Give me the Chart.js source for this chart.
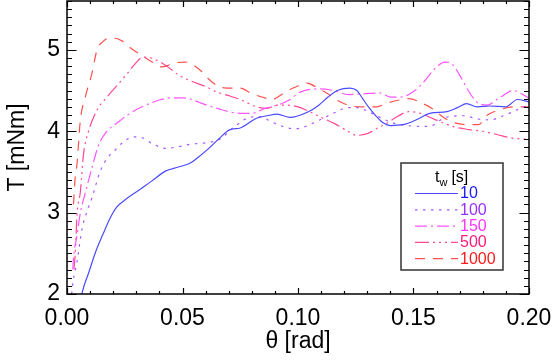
<!DOCTYPE html>
<html>
<head>
<meta charset="utf-8">
<script src="https://cdn.jsdelivr.net/npm/chart.js@4.4.1/dist/chart.umd.min.js"></script>
<style>
html,body{margin:0;padding:0;background:#fff;}
#wrap{width:553px;height:362px;position:relative;}
</style>
</head>
<body>
<div id="wrap"><canvas id="c" width="553" height="362"></canvas></div>
<script>
// ---- data ----
const seriesLabels = ['10', '100', '150', '500', '1000'];

const theta10 = [0.0060,0.0065,0.0095,0.0123,0.0155,0.0188,0.0216,0.0253,0.0303,0.0368,0.0426,0.0483,0.0534,0.0568,0.0610,0.0655,0.0706,0.0750,0.0820,0.0866,0.0910,0.0965,0.1045,0.1090,0.1130,0.1170,0.1225,0.1255,0.1280,0.1310,0.1340,0.1370,0.1400,0.1455,0.1520,0.1570,0.1645,0.1690,0.1730,0.1775,0.1830,0.1900,0.1950,0.1998];
const torque10 = [1.93,2.01,2.27,2.51,2.73,2.94,3.07,3.16,3.26,3.39,3.51,3.56,3.61,3.68,3.78,3.90,4.02,4.04,4.16,4.19,4.21,4.17,4.24,4.32,4.42,4.50,4.53,4.50,4.40,4.28,4.18,4.10,4.07,4.08,4.15,4.22,4.24,4.29,4.34,4.30,4.31,4.30,4.39,4.36];

const theta100 = [0.0020,0.0026,0.0043,0.0065,0.0085,0.0108,0.0144,0.0180,0.0202,0.0245,0.0289,0.0325,0.0368,0.0426,0.0483,0.0534,0.0606,0.0660,0.0727,0.0790,0.0830,0.0890,0.0944,0.0987,0.1023,0.1080,0.1153,0.1218,0.1255,0.1290,0.1355,0.1413,0.1470,0.1535,0.1570,0.1630,0.1716,0.1780,0.1831,0.1889,0.1947,0.1995];
const torque100 = [2.00,2.15,2.39,2.80,3.00,3.18,3.51,3.69,3.75,3.87,3.93,3.92,3.85,3.79,3.81,3.84,3.86,3.90,4.06,4.17,4.18,4.11,4.05,4.03,4.05,4.12,4.22,4.29,4.29,4.26,4.17,4.10,4.07,4.06,4.06,4.16,4.19,4.15,4.14,4.19,4.26,4.32];

const theta150 = [0.0025,0.0029,0.0043,0.0058,0.0079,0.0108,0.0137,0.0173,0.0216,0.0267,0.0325,0.0397,0.0455,0.0500,0.0540,0.0576,0.0650,0.0750,0.0800,0.0857,0.0910,0.0960,0.1009,0.1095,0.1153,0.1218,0.1283,0.1355,0.1400,0.1445,0.1506,0.1543,0.1593,0.1636,0.1665,0.1700,0.1737,0.1774,0.1817,0.1867,0.1932,0.1997];
const torque150 = [2.30,2.47,2.71,3.00,3.24,3.55,3.83,4.00,4.10,4.21,4.30,4.38,4.41,4.41,4.39,4.35,4.28,4.22,4.22,4.28,4.32,4.38,4.48,4.52,4.50,4.45,4.46,4.47,4.42,4.42,4.50,4.60,4.77,4.85,4.83,4.69,4.50,4.36,4.32,4.40,4.50,4.41];

const theta500 = [0.0030,0.0036,0.0043,0.0058,0.0072,0.0091,0.0130,0.0173,0.0216,0.0267,0.0289,0.0329,0.0365,0.0426,0.0483,0.0534,0.0600,0.0650,0.0697,0.0750,0.0820,0.0866,0.0910,0.0950,0.1000,0.1050,0.1100,0.1160,0.1210,0.1255,0.1300,0.1345,0.1380,0.1430,0.1480,0.1530,0.1580,0.1630,0.1680,0.1740,0.1800,0.1860,0.1920,0.1995];
const torque500 = [2.30,2.51,2.96,3.26,3.73,3.98,4.26,4.42,4.56,4.73,4.81,4.91,4.90,4.81,4.69,4.62,4.55,4.48,4.44,4.39,4.30,4.28,4.32,4.32,4.30,4.24,4.17,4.09,4.01,3.95,3.97,4.04,4.09,4.18,4.24,4.22,4.16,4.10,4.05,4.02,4.00,3.96,3.92,3.90];

const theta1000 = [0.0028,0.0036,0.0043,0.0058,0.0079,0.0108,0.0130,0.0155,0.0188,0.0238,0.0281,0.0325,0.0375,0.0411,0.0469,0.0512,0.0577,0.0606,0.0650,0.0690,0.0750,0.0800,0.0844,0.0887,0.0944,0.0987,0.1040,0.1080,0.1140,0.1170,0.1230,0.1280,0.1340,0.1390,0.1450,0.1480,0.1540,0.1580,0.1630,0.1670,0.1740,0.1780,0.1820,0.1870,0.1930,0.1970,0.1995];
const torque1000 = [3.10,3.45,3.59,4.14,4.42,4.71,5.00,5.10,5.15,5.11,5.01,4.93,4.84,4.79,4.84,4.85,4.75,4.66,4.56,4.53,4.53,4.46,4.42,4.39,4.48,4.54,4.59,4.54,4.44,4.38,4.31,4.30,4.30,4.35,4.39,4.40,4.34,4.28,4.17,4.11,4.08,4.08,4.20,4.26,4.30,4.30,4.30];

const xTickValues = [0.00, 0.05, 0.10, 0.15, 0.20];
const xTickLabels = ['0.00', '0.05', '0.10', '0.15', '0.20'];
const yTickValues = [2, 3, 4, 5];
const yTickLabels = ['2', '3', '4', '5'];

// ---- styles ----
const lineColors = ['#4a4aff', '#a855ff', '#ff55ff', '#ff4a95', '#ff5050'];
const textColors = ['#1a1aff', '#9530ff', '#ff35ff', '#ff1a78', '#ff1a1a'];
const dashes = [[], [2.5, 5.5], [12, 4, 2, 4], [14, 4, 2, 4, 2, 4, 2, 4], [10, 8]];

const pairs = (xs, ys) => xs.map((x, i) => ({x: x, y: ys[i]}));
const allTheta = [theta10, theta100, theta150, theta500, theta1000];
const allTorque = [torque10, torque100, torque150, torque500, torque1000];

const FONT = '"Liberation Sans", Arial, Helvetica, sans-serif';

const datasets = seriesLabels.map((lab, i) => ({
  label: lab,
  data: pairs(allTheta[i], allTorque[i]),
  borderColor: lineColors[i],
  borderWidth: 1.2,
  borderDash: dashes[i],
  pointRadius: 0,
  fill: false,
  cubicInterpolationMode: 'monotone',
  textColor: textColors[i]
}));

const frameTicks = {
  id: 'frameTicks',
  afterDraw(chart) {
    const ctx = chart.ctx, a = chart.chartArea;
    const xs = chart.scales.x, ys = chart.scales.y;
    ctx.save();
    ctx.strokeStyle = '#000';
    ctx.lineWidth = 1.5;
    ctx.setLineDash([]);
    ctx.strokeRect(a.left, a.top, a.right - a.left, a.bottom - a.top);
    ctx.lineWidth = 1.2;
    ctx.beginPath();
    for (let k = 0; k <= 20; k++) {
      const v = k * 0.01;
      const px = Math.round(xs.getPixelForValue(v)) + 0.5;
      const len = (k % 5 === 0) ? 6 : 3;
      ctx.moveTo(px, a.bottom); ctx.lineTo(px, a.bottom - len);
      ctx.moveTo(px, a.top); ctx.lineTo(px, a.top + len);
    }
    for (let k = 20; k <= 56; k++) {
      const v = k * 0.1;
      const py = Math.round(ys.getPixelForValue(v)) + 0.5;
      const len = (k % 10 === 0) ? 9.5 : 5;
      ctx.moveTo(a.left, py); ctx.lineTo(a.left + len, py);
      ctx.moveTo(a.right, py); ctx.lineTo(a.right - len, py);
    }
    ctx.stroke();

    // legend box
    const bx = 401, by = 163, bw = 102, bh = 107;
    ctx.fillStyle = '#fff';
    ctx.fillRect(bx, by, bw, bh);
    ctx.strokeStyle = '#333';
    ctx.lineWidth = 1.5;
    ctx.strokeRect(bx, by, bw, bh);
    ctx.fillStyle = '#000';
    ctx.textBaseline = 'alphabetic';
    ctx.textAlign = 'left';
    ctx.font = '16px ' + FONT;
    let tx = 435;
    ctx.fillText('t', tx, 182);
    tx += ctx.measureText('t').width;
    ctx.font = '11px ' + FONT;
    ctx.fillText('w', tx, 186);
    tx += ctx.measureText('w').width + 4;
    ctx.font = '16px ' + FONT;
    ctx.fillText('[s]', tx, 182);
    chart.data.datasets.forEach((ds, i) => {
      const yy = 193 + i * 16.3;
      ctx.strokeStyle = ds.borderColor;
      ctx.lineWidth = 1.2;
      ctx.setLineDash(ds.borderDash);
      ctx.beginPath();
      ctx.moveTo(415, yy + 0.5); ctx.lineTo(458, yy + 0.5);
      ctx.stroke();
      ctx.setLineDash([]);
      ctx.fillStyle = ds.textColor;
      ctx.font = '16px ' + FONT;
      ctx.textBaseline = 'middle';
      ctx.fillText(ds.label, 460, yy + 1);
    });
    ctx.restore();
  }
};

new Chart(document.getElementById('c'), {
  type: 'line',
  data: { datasets: datasets },
  plugins: [frameTicks],
  options: {
    responsive: false,
    animation: false,
    layout: { padding: { left: 0, right: 24, top: 1, bottom: 0 } },
    plugins: { legend: { display: false }, tooltip: { enabled: false } },
    scales: {
      x: {
        type: 'linear',
        min: 0, max: 0.2,
        afterBuildTicks: s => { s.ticks = xTickValues.map(v => ({value: v})); },
        afterFit: s => { s.height = 68; s.paddingLeft = 0; s.paddingRight = 0; },
        ticks: {
          callback: (v) => { const i = xTickValues.findIndex(t => Math.abs(t - v) < 1e-9); return i >= 0 ? xTickLabels[i] : ''; },
          font: { family: FONT, size: 23 },
          color: '#000',
          padding: 11,
          maxRotation: 0,
          autoSkip: false
        },
        grid: { display: false, drawTicks: false },
        border: { display: false },
        title: { display: true, text: 'θ [rad]', font: { family: FONT, size: 23 }, color: '#000', padding: { top: 0, bottom: 7 } }
      },
      y: {
        type: 'linear',
        min: 2, max: 5.6,
        afterBuildTicks: s => { s.ticks = yTickValues.map(v => ({value: v})); },
        afterFit: s => { s.width = 67; s.paddingTop = 0; s.paddingBottom = 0; },
        ticks: {
          callback: (v) => { const i = yTickValues.findIndex(t => Math.abs(t - v) < 1e-9); return i >= 0 ? yTickLabels[i] : ''; },
          font: { family: FONT, size: 23 },
          color: '#000',
          padding: 7
        },
        grid: { display: false, drawTicks: false },
        border: { display: false },
        title: { display: true, text: 'T [mNm]', font: { family: FONT, size: 23 }, color: '#000', padding: { top: 4, bottom: 0 } }
      }
    }
  }
});
</script>
</body>
</html>
